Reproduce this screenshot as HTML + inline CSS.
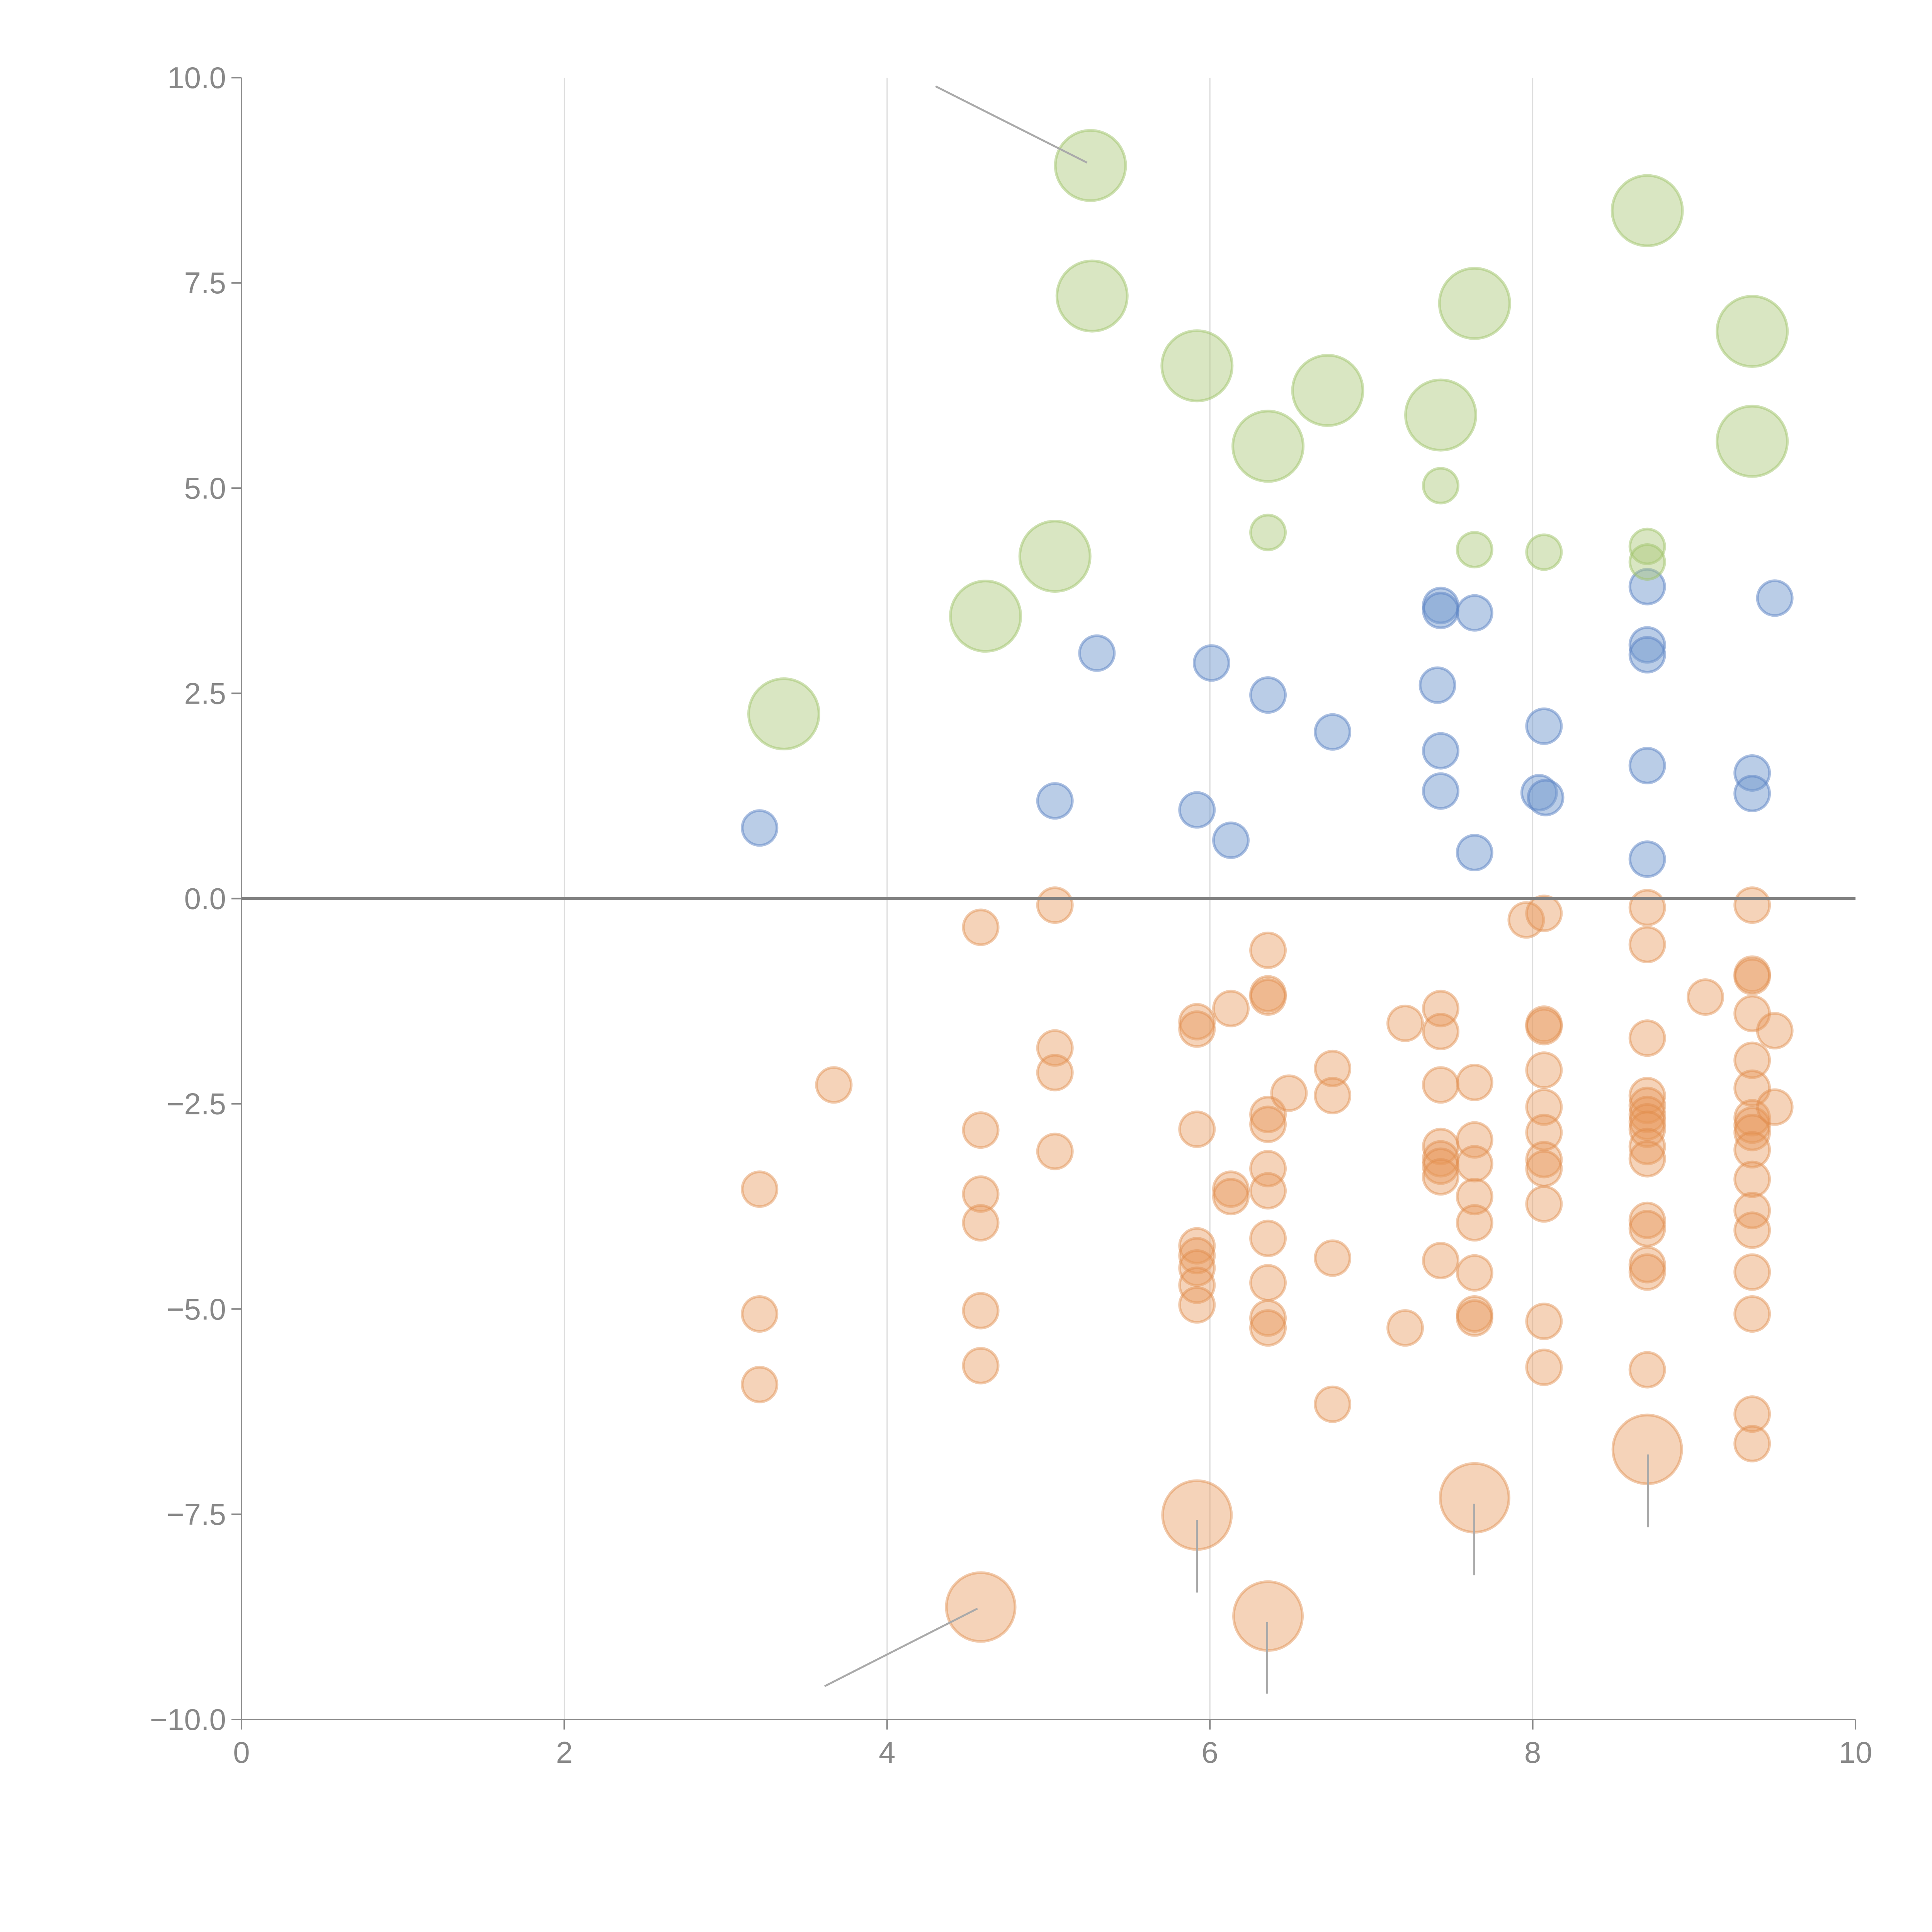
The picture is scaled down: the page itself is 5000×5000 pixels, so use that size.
<!DOCTYPE html>
<html><head><meta charset="utf-8"><style>html,body{margin:0;padding:0;background:#fff}svg{display:block}</style></head>
<body>
<svg id="chart" width="5000" height="5000" viewBox="0 0 5000 5000" xmlns="http://www.w3.org/2000/svg" font-family="Liberation Sans, sans-serif"></svg>
<script>
const xTicks=[0,2,4,6,8,10];
const yTicks=[-10,-7.5,-5,-2.5,0,2.5,5,7.5,10];
const yTickLabels=["−10.0","−7.5","−5.0","−2.5","0.0","2.5","5.0","7.5","10.0"];
const greenLargeX=[5.26,5.27,5.92,6.36,6.73,7.43,7.64,8.71,9.36,9.36,5.04,4.61,3.36];
const greenLargeY=[8.93,7.34,6.49,5.51,6.19,5.89,7.25,8.38,6.91,5.57,4.17,3.44,2.25];
const greenSmallX=[6.36,7.43,7.64,8.07,8.71,8.71];
const greenSmallY=[4.46,5.03,4.25,4.22,4.29,4.10];
const blueX=[5.30,6.01,6.36,6.76,7.43,7.43,7.64,7.41,7.43,7.43,7.64,8.07,8.04,8.08,8.71,8.71,8.71,8.71,8.71,9.36,9.36,9.50,3.21,5.04,5.92,6.13];
const blueY=[2.99,2.87,2.48,2.03,3.57,3.51,3.48,2.60,1.80,1.31,0.56,2.10,1.29,1.23,3.80,3.09,2.97,1.62,0.48,1.53,1.28,3.66,0.86,1.19,1.08,0.71];
const orangeX=[3.21,3.21,3.21,3.67,4.58,4.58,4.58,4.58,4.58,4.58,5.04,5.04,5.04,5.04,
5.92,5.92,5.92,5.92,5.92,5.92,5.92,5.92,6.13,6.13,6.13,
6.36,6.36,6.36,6.36,6.36,6.36,6.36,6.36,6.36,6.36,6.36,6.49,6.76,6.76,6.76,6.76,7.21,7.21,
7.43,7.43,7.43,7.43,7.43,7.43,7.43,7.43,7.64,7.64,7.64,7.64,7.64,7.64,7.64,7.64,7.96,
8.07,8.07,8.07,8.07,8.07,8.07,8.07,8.07,8.07,8.07,8.07,
8.71,8.71,8.71,8.71,8.71,8.71,8.71,8.71,8.71,8.71,8.71,8.71,8.71,8.71,8.71,9.07,
9.36,9.36,9.36,9.36,9.36,9.36,9.36,9.36,9.36,9.36,9.36,9.36,9.36,9.36,9.36,9.36,9.36,9.50,9.50];
const orangeY=[-3.54,-5.06,-5.92,-2.27,-0.35,-2.82,-3.60,-3.95,-5.02,-5.69,-0.08,-1.82,-2.12,-3.08,
-1.50,-1.59,-2.81,-4.23,-4.35,-4.50,-4.71,-4.95,-1.34,-3.54,-3.63,
-0.63,-1.16,-1.20,-2.63,-2.75,-3.29,-3.56,-4.14,-4.68,-5.11,-5.23,-2.37,-2.07,-2.40,-4.38,-6.16,-1.52,-5.23,
-1.34,-1.62,-2.27,-3.02,-3.17,-3.26,-3.39,-4.41,-2.24,-2.94,-3.23,-3.63,-3.95,-4.56,-5.06,-5.11,-0.26,
-0.18,-1.53,-1.56,-2.09,-2.54,-2.85,-3.18,-3.29,-3.72,-5.15,-5.71,
-0.11,-0.56,-1.70,-2.40,-2.52,-2.63,-2.72,-2.81,-3.02,-3.17,-3.92,-4.02,-4.46,-4.55,-5.74,-1.20,
-0.08,-0.92,-0.95,-1.40,-1.97,-2.31,-2.67,-2.76,-2.85,-3.06,-3.42,-3.80,-4.04,-4.55,-5.06,-6.28,-6.64,-1.61,-2.54];
const orangeLargeX=[4.58,5.92,6.36,7.64,8.71];
const orangeLargeY=[-8.63,-7.51,-8.74,-7.30,-6.71];

const NS="http://www.w3.org/2000/svg";
const svg=document.getElementById('chart');
const X0=625,X1=4802,Y0=4450,Y1=201;
function sx(v){return X0+(v-0)/(10-0)*(X1-X0);}
function sy(v){return Y0-(v+10)/20*(Y0-Y1);}
function mk(tag,attrs,parent){const e=document.createElementNS(NS,tag);for(const k in attrs)e.setAttribute(k,attrs[k]);(parent||svg).appendChild(e);return e;}

const grid=mk('g',{});


xTicks.forEach(t=>{if(t>0&&t<10){const l=mk('line',{x1:sx(t),x2:sx(t),y1:Y1,y2:Y0,stroke:'#dcdcdc','stroke-width':3},grid);

}});

const axes=mk('g',{});


const ya=mk('line',{x1:X0,x2:X0,y1:Y1,y2:Y0+26,stroke:'#888','stroke-width':4},axes);


const xa=mk('line',{x1:X0-26,x2:X1,y1:Y0,y2:Y0,stroke:'#888','stroke-width':4},axes);


yTicks.forEach((t,i)=>{
  const tk=mk('line',{x1:X0-26,x2:X0,y1:sy(t),y2:sy(t),stroke:'#888','stroke-width':4},axes);
  
  
  const tx=mk('text',{x:X0-40,y:sy(t)+27,'text-anchor':'end','font-size':78,fill:'#888'},axes);
  tx.textContent=yTickLabels[i];
  
  
});
xTicks.forEach(t=>{
  const tk=mk('line',{x1:sx(t),x2:sx(t),y1:Y0,y2:Y0+26,stroke:'#888','stroke-width':4},axes);
  
  
  const tx=mk('text',{x:sx(t),y:Y0+112,'text-anchor':'middle','font-size':78,fill:'#888'},axes);
  tx.textContent=String(t);
  
  
});

function series(xs,ys,r,fill,stroke,name){
  const g=mk('g',{});
  
  
  xs.forEach((x,i)=>{
    const c=mk('circle',{cx:sx(x),cy:sy(ys[i]),r:r,fill:fill,stroke:stroke,'stroke-width':7},g);
    
    
  });
}
series(orangeX,orangeY,45,'rgba(230,150,88,0.42)','rgba(225,140,75,0.45)','orange');
series(orangeLargeX,orangeLargeY,89,'rgba(230,150,88,0.42)','rgba(225,140,75,0.45)','orange-large');
series(blueX,blueY,45,'rgba(110,150,205,0.48)','rgba(90,130,195,0.5)','blue');
series(greenSmallX,greenSmallY,45,'rgba(170,200,120,0.45)','rgba(160,195,105,0.5)','green');
series(greenLargeX,greenLargeY,91,'rgba(170,200,120,0.45)','rgba(160,195,105,0.5)','green-large');

const zl=mk('line',{x1:X0,x2:X1,y1:sy(0),y2:sy(0),stroke:'#808080','stroke-width':8});



const leaders=[[759,70,882,132],[669,1368,793,1305],[971,1233,971,1292],[1028,1316,1028,1374],[1196,1220,1196,1278],[1337,1180,1337,1239]];
const s=3.19;
const lg=mk('g',{});


leaders.forEach(a=>{const l=mk('line',{x1:a[0]*s,y1:a[1]*s,x2:a[2]*s,y2:a[3]*s,stroke:'#aaa','stroke-width':5},lg);

});
</script>
</body></html>
